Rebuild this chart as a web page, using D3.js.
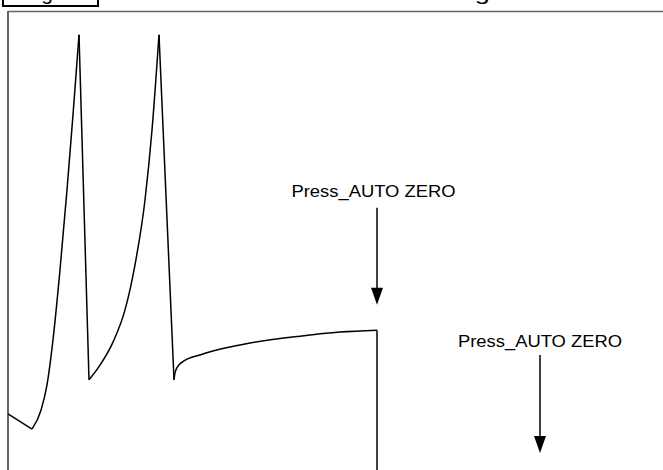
<!DOCTYPE html>
<html>
<head>
<meta charset="utf-8">
<script src="https://cdn.jsdelivr.net/npm/d3@7"></script>
<style>
  html, body { margin: 0; padding: 0; background: #fff; }
  svg { display: block; }
  text { font-family: "Liberation Sans", Arial, sans-serif; }
</style>
</head>
<body>
<div id="chart"></div>
<script>
// ---- data (time in s, signal in arbitrary units) ----
const drift    = [[0, 12.2], [4.8, 8.9]];
const rise1    = [[4.8, 8.9], [6.6, 13.0], [7.8, 18.5], [9.0, 28.3], [10.4, 43.5], [11.8, 60.9], [13.0, 77.2], [14.2, 94.6]];
const drop1    = [[14.2, 94.6], [16.2, 19.6]];
const rise2    = [[16.2, 19.6], [18.4, 22.8], [21.0, 27.8], [23.4, 34.8], [25.4, 44.6], [27.4, 58.7], [28.8, 73.9], [30.2, 94.6]];
const drop2    = [[30.2, 94.6], [33.2, 19.6]];
const recover  = [[33.2, 19.6], [33.4, 21.1], [34.0, 22.6], [35.2, 23.7], [38.4, 25.0], [43.4, 26.5], [48.4, 27.6], [58.4, 29.1], [66.4, 30.0], [73.8, 30.4]];
const zeroDrop = [[73.8, 30.4], [73.8, 0]];

const annoLabels = ["Press_AUTO ZERO", "Press_AUTO ZERO"];
const annoTextX  = [73.1, 106.4];
const annoTextY  = [59.3, 26.7];
const annoFrom   = [57.0, 25.0];
const annoTo     = [35.9, 3.7];
const annoX      = [73.8, 106.4];

const figLabel = "Fig. 5";
const title = "Use cases for auto zero setting";

// ---- layout ----
const W = 663, H = 470;
const svg = d3.select("#chart").append("svg").attr("width", W).attr("height", H);

const x = d3.scaleLinear().domain([0, 131]).range([8, 663]);
const y = d3.scaleLinear().domain([0, 100]).range([470, 10]);

// title (cropped at the top edge, as in the source)
svg.append("rect").attr("x", 3).attr("y", -30).attr("width", 95).attr("height", 36)
  .attr("fill", "none").attr("stroke", "#000").attr("stroke-width", 2);
svg.append("text").attr("x", 50).attr("y", -0.3).attr("text-anchor", "middle")
  .attr("font-size", 21).attr("fill", "#000").text(figLabel);
svg.append("text").attr("x", 115).attr("y", -0.3).attr("font-size", 21)
  .attr("textLength", 375).attr("lengthAdjust", "spacingAndGlyphs")
  .attr("fill", "#000").text(title);

// plot frame (top & left visible)
svg.append("line").attr("x1", 8).attr("x2", W).attr("y1", 11.5).attr("y2", 11.5)
  .attr("stroke", "#666").attr("stroke-width", 1.5);
svg.append("line").attr("x1", 8).attr("x2", 8).attr("y1", 11).attr("y2", H)
  .attr("stroke", "#666").attr("stroke-width", 2);

// signal
const smooth = d3.line().x(d => x(d[0])).y(d => y(d[1])).curve(d3.curveMonotoneX);
const straight = d3.line().x(d => x(d[0])).y(d => y(d[1]));
[[drift, straight], [rise1, smooth], [drop1, straight], [rise2, smooth],
 [drop2, straight], [recover, smooth], [zeroDrop, straight]].forEach(([seg, gen]) => {
  svg.append("path").attr("d", gen(seg)).attr("fill", "none")
    .attr("stroke", "#000").attr("stroke-width", 1.5);
});

// annotations
annoLabels.forEach((lab, i) => {
  svg.append("text").attr("x", x(annoTextX[i])).attr("y", y(annoTextY[i]))
    .attr("text-anchor", "middle").attr("font-size", 16)
    .attr("textLength", 164).attr("lengthAdjust", "spacingAndGlyphs")
    .attr("fill", "#000").text(lab);
  const ax = x(annoX[i]), tip = y(annoTo[i]);
  svg.append("line").attr("x1", ax).attr("x2", ax)
    .attr("y1", y(annoFrom[i])).attr("y2", tip - 10)
    .attr("stroke", "#000").attr("stroke-width", 1.5);
  svg.append("path")
    .attr("d", `M${ax - 6},${tip - 17} L${ax + 6},${tip - 17} L${ax},${tip} Z`)
    .attr("fill", "#000");
});
</script>
</body>
</html>
